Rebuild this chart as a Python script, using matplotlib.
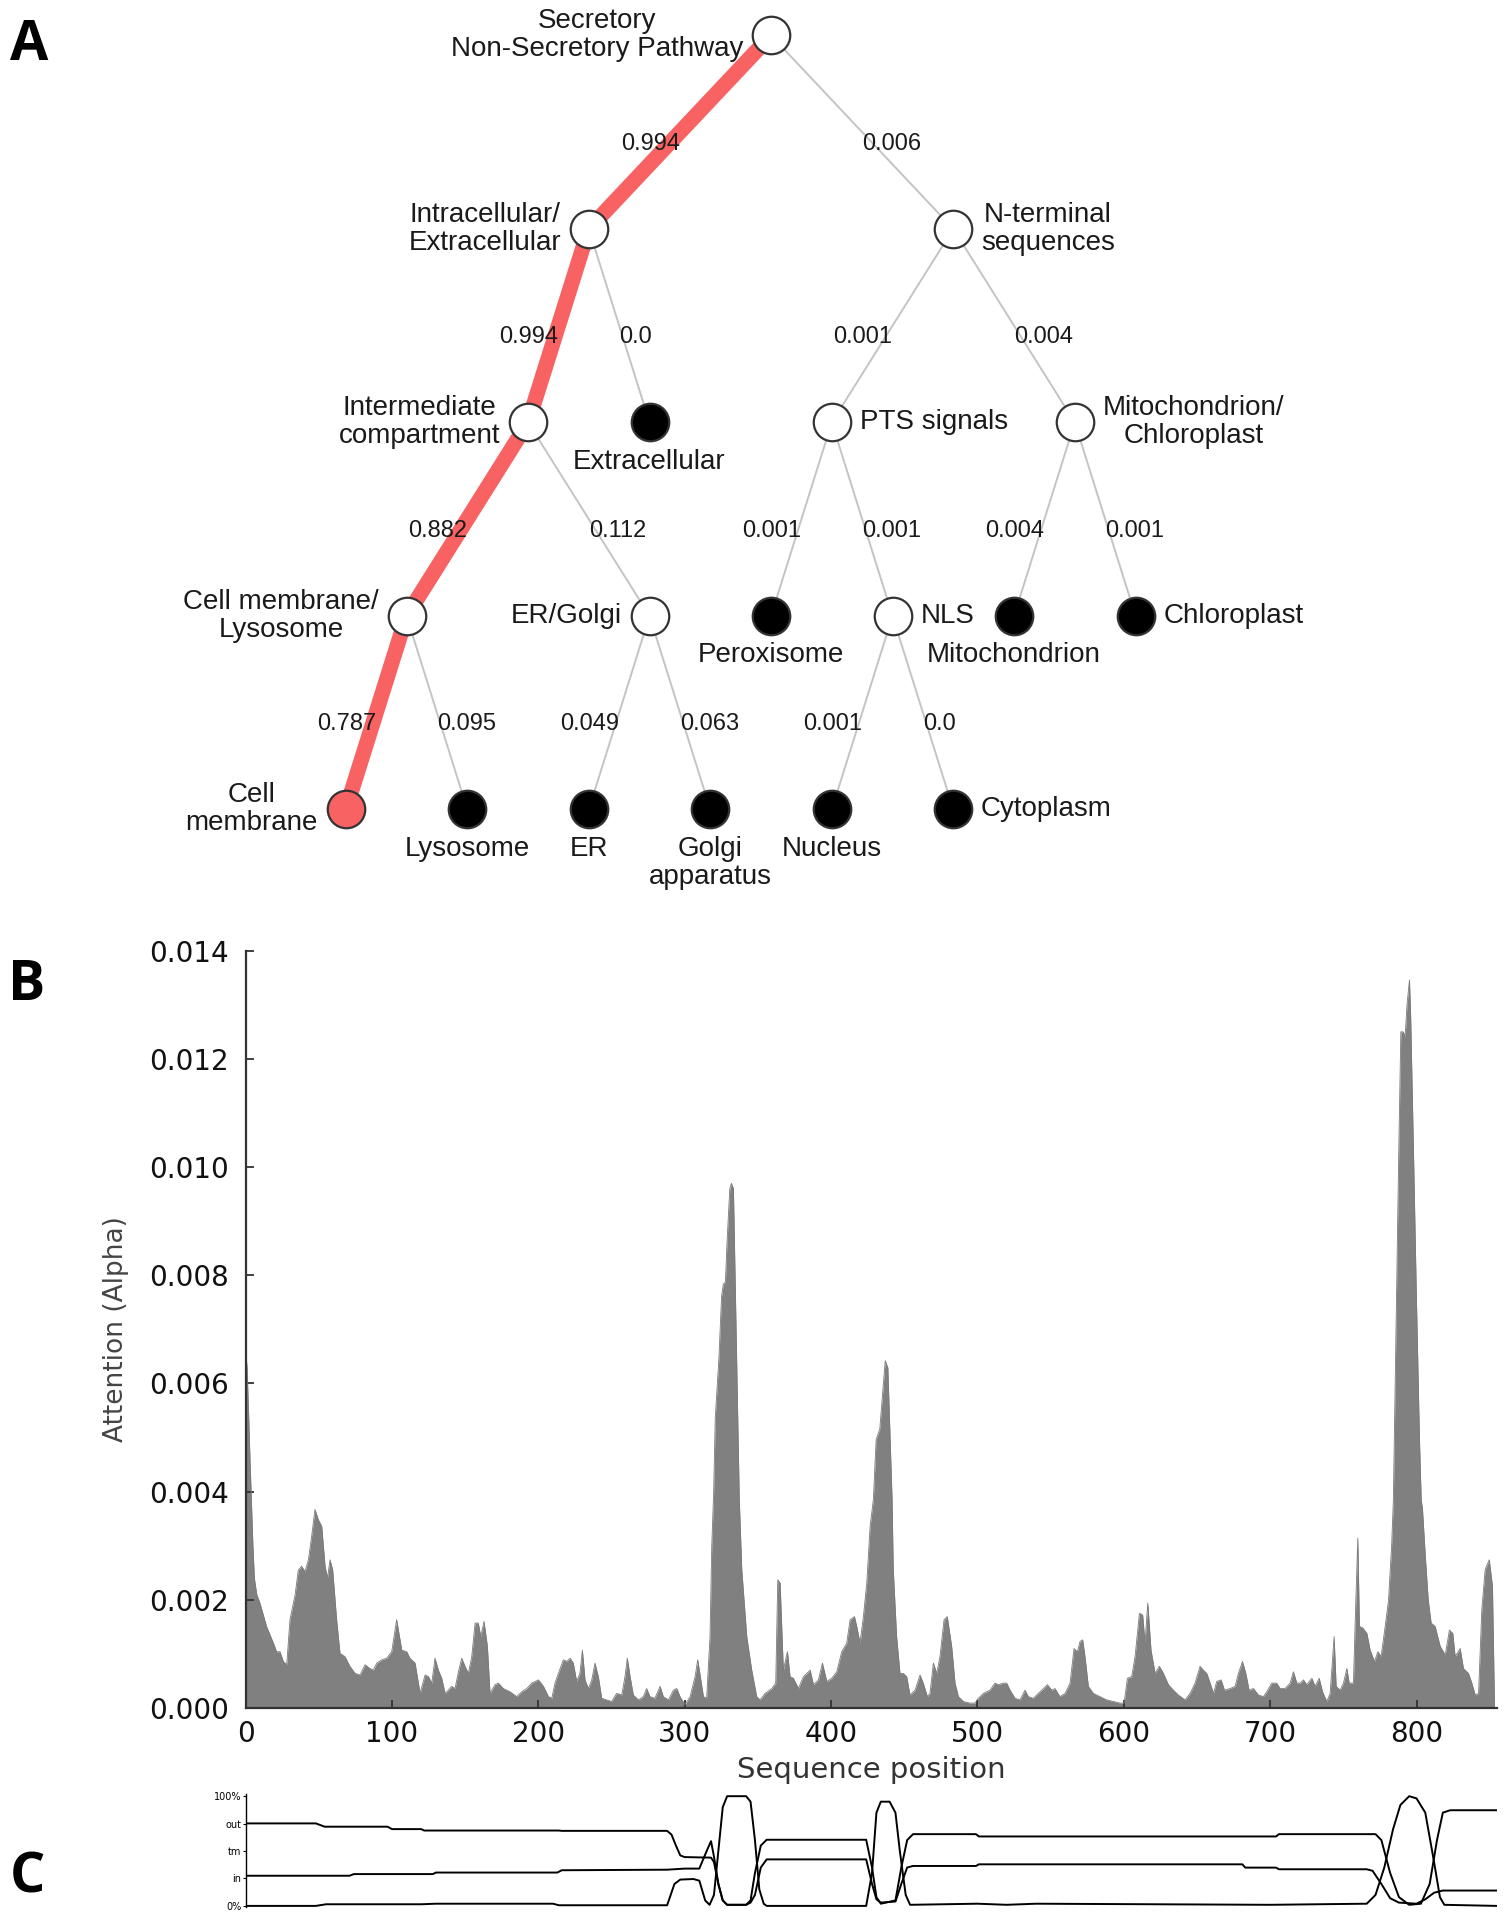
import numpy as np
import matplotlib
matplotlib.use("Agg")
import matplotlib.pyplot as plt
from matplotlib.ticker import FormatStrFormatter

# ---------------- data ----------------
# Panel A: hierarchical localisation tree (parent, child, probability), children left->right
tree_parent = [
    "Secretory\nNon-Secretory Pathway", "Secretory\nNon-Secretory Pathway",
    "Intracellular/\nExtracellular", "Intracellular/\nExtracellular",
    "N-terminal\nsequences", "N-terminal\nsequences",
    "Intermediate\ncompartment", "Intermediate\ncompartment",
    "PTS signals", "PTS signals",
    "Mitochondrion/\nChloroplast", "Mitochondrion/\nChloroplast",
    "Cell membrane/\nLysosome", "Cell membrane/\nLysosome",
    "ER/Golgi", "ER/Golgi",
    "NLS", "NLS",
]
tree_child = [
    "Intracellular/\nExtracellular", "N-terminal\nsequences",
    "Intermediate\ncompartment", "Extracellular",
    "PTS signals", "Mitochondrion/\nChloroplast",
    "Cell membrane/\nLysosome", "ER/Golgi",
    "Peroxisome", "NLS",
    "Mitochondrion", "Chloroplast",
    "Cell\nmembrane", "Lysosome",
    "ER", "Golgi\napparatus",
    "Nucleus", "Cytoplasm",
]
tree_prob = [0.994, 0.006, 0.994, 0.0, 0.001, 0.004, 0.882, 0.112, 0.001, 0.001,
             0.004, 0.001, 0.787, 0.095, 0.049, 0.063, 0.001, 0.0]
predicted_leaf = "Cell\nmembrane"

# Panel B: attention profile (sequence position, attention x 1e-3)
attention_profile = [
    (0, 6.6), (1, 6.3), (2, 5.5), (3, 4.6), (4, 3.8), (5, 3.0), (6, 2.4), (7.6, 2.1),
    (9.8, 1.94), (14.4, 1.5), (19.0, 1.2), (21.2, 1.04), (23.5, 1.04), (25.8, 0.86),
    (28.1, 0.80), (30.3, 1.63), (33.8, 2.09), (36.0, 2.55), (38.3, 2.62), (40.6, 2.52),
    (42.9, 2.74), (45.1, 3.17), (47.4, 3.67), (49.7, 3.48), (52.0, 3.36), (54.3, 2.62),
    (55.9, 2.4), (57.7, 2.74), (59.5, 2.55), (62.2, 1.63), (64.5, 1.01), (67.9, 0.95),
    (71.3, 0.77), (74.8, 0.64), (78.2, 0.61), (81.6, 0.80), (85.0, 0.73), (87.3, 0.70),
    (89.6, 0.83), (93.0, 0.89), (96.4, 0.92), (99.8, 1.04), (103.2, 1.63), (106.7, 1.07),
    (110.1, 1.04), (112.3, 0.92), (115.8, 0.83), (119.2, 0.27), (122.6, 0.61),
    (124.9, 0.58), (127.2, 0.46), (129.4, 0.92), (131.7, 0.70), (134.0, 0.55),
    (136.3, 0.27), (138.5, 0.33), (140.8, 0.40), (143.1, 0.36), (145.4, 0.67),
    (147.7, 0.92), (149.9, 0.77), (152.2, 0.64), (154.5, 0.95), (156.8, 1.57),
    (159.0, 1.57), (160.6, 1.32), (162.9, 1.6), (165.2, 1.14), (167.0, 0.27),
    (170.4, 0.43), (172.7, 0.46), (176.1, 0.36), (180.7, 0.30), (185.2, 0.21),
    (188.7, 0.30), (192.1, 0.36), (195.5, 0.46), (200.1, 0.52), (203.5, 0.40),
    (206.9, 0.21), (209.2, 0.18), (211.4, 0.46), (213.7, 0.64), (217.1, 0.89),
    (219.4, 0.86), (221.7, 0.92), (223.9, 0.83), (226.2, 0.49), (228.4, 0.64),
    (230.1, 1.07), (231.9, 0.52), (234.2, 0.36), (236.5, 0.52), (238.7, 0.83),
    (241.0, 0.58), (243.3, 0.18), (246.7, 0.15), (250.1, 0.12), (253.5, 0.27),
    (257.0, 0.24), (259.2, 0.58), (260.8, 0.92), (262.7, 0.58), (264.9, 0.24),
    (268.4, 0.15), (271.8, 0.21), (274.0, 0.36), (276.3, 0.21), (279.7, 0.18),
    (283.2, 0.40), (285.4, 0.21), (288.9, 0.15), (292.3, 0.33), (294.6, 0.36),
    (296.8, 0.21), (300.2, 0.06), (303.7, 0.21), (307.1, 0.58), (308.9, 0.89),
    (310.7, 0.58), (312.8, 0.21), (315.0, 0.18), (317.3, 1.32), (318.5, 3.0),
    (319.8, 4.0), (320.9, 5.37), (323.4, 6.48), (325.2, 7.61), (326.4, 7.84),
    (327.8, 7.87), (328.9, 8.6), (330.8, 9.59), (331.9, 9.7), (333.3, 9.6),
    (334.5, 7.9), (335.8, 6.0), (337.3, 3.85), (339.0, 2.56), (342.4, 1.32),
    (345.8, 0.70), (349.2, 0.21), (351.5, 0.15), (355.0, 0.27), (359.5, 0.36),
    (362.2, 0.46), (363.6, 2.37), (365.2, 2.31), (367.4, 0.70), (370.2, 1.04),
    (372.0, 0.58), (374.3, 0.55), (377.7, 0.36), (381.1, 0.58), (385.7, 0.70),
    (388.0, 0.43), (391.4, 0.52), (394.1, 0.83), (397.1, 0.49), (400.5, 0.55),
    (403.9, 0.67), (407.3, 1.04), (410.7, 1.2), (413.0, 1.63), (416.0, 1.69),
    (417.6, 1.5), (419.8, 1.2), (422.1, 1.69), (424.4, 2.31), (426.7, 3.36),
    (428.9, 3.85), (430.8, 4.96), (433.3, 5.16), (435.5, 5.9), (437.0, 6.42),
    (438.8, 6.29), (441.7, 3.85), (442.5, 2.56), (444.8, 1.32), (447.1, 0.64),
    (449.4, 0.64), (451.7, 0.58), (453.9, 0.24), (457.4, 0.33), (460.8, 0.61),
    (463.0, 0.46), (465.8, 0.21), (467.6, 0.27), (469.9, 0.83), (472.2, 0.64),
    (474.4, 0.95), (477.2, 1.63), (479.4, 1.69), (482.4, 1.14), (484.7, 0.46),
    (487.0, 0.21), (490.4, 0.12), (494.9, 0.09), (498.4, 0.09), (500.6, 0.18),
    (504.1, 0.27), (508.6, 0.33), (512.0, 0.46), (514.3, 0.43), (517.7, 0.46),
    (520.0, 0.46), (522.3, 0.33), (525.7, 0.18), (529.1, 0.15), (532.5, 0.33),
    (534.8, 0.21), (538.2, 0.18), (541.6, 0.27), (545.1, 0.36), (547.8, 0.43),
    (550.8, 0.33), (553.0, 0.36), (556.4, 0.21), (559.9, 0.27), (563.3, 0.46),
    (566.0, 1.1), (568.3, 1.04), (570.1, 1.23), (571.9, 1.26), (573.5, 0.95),
    (575.8, 0.40), (579.2, 0.27), (583.8, 0.21), (588.3, 0.15), (592.9, 0.12),
    (597.5, 0.09), (600.2, 0.09), (602.5, 0.55), (605.4, 0.58), (607.7, 0.95),
    (610.7, 1.75), (612.9, 1.72), (614.5, 1.2), (616.4, 1.94), (618.6, 1.07),
    (621.4, 0.64), (624.3, 0.77), (627.1, 0.64), (630.5, 0.43), (633.9, 0.33),
    (637.3, 0.24), (641.9, 0.15), (645.3, 0.27), (648.7, 0.46), (652.1, 0.77),
    (654.4, 0.70), (656.7, 0.64), (659.0, 0.46), (661.3, 0.27), (663.5, 0.49),
    (666.5, 0.52), (668.8, 0.33), (672.7, 0.36), (676.1, 0.40), (678.3, 0.64),
    (681.1, 0.86), (683.4, 0.64), (685.6, 0.33), (688.6, 0.36), (692.0, 0.24),
    (695.4, 0.21), (697.7, 0.30), (701.1, 0.46), (704.5, 0.46), (706.8, 0.36),
    (710.2, 0.36), (713.7, 0.46), (715.9, 0.67), (718.2, 0.46), (720.5, 0.46),
    (722.8, 0.52), (725.0, 0.43), (728.5, 0.55), (730.7, 0.40), (733.5, 0.55),
    (735.8, 0.30), (738.7, 0.12), (741.0, 0.27), (743.7, 1.32), (745.1, 0.40),
    (747.8, 0.33), (750.1, 0.46), (752.4, 0.73), (754.0, 0.46), (756.9, 0.46),
    (758.5, 1.94), (759.9, 3.14), (761.0, 1.51), (763.3, 1.48), (766.1, 1.38),
    (768.3, 1.07), (771.3, 0.86), (773.6, 1.04), (775.8, 0.95), (778.6, 1.51),
    (780.9, 2.0), (783.0, 3.0), (784.2, 3.85), (786.7, 8.3), (788.0, 10.5),
    (789.3, 12.5), (791.0, 12.5), (792.2, 12.4), (793.5, 13.0), (795.2, 13.46),
    (796.0, 12.8), (798.0, 10.2), (800.0, 7.5), (802.0, 5.0), (803.2, 3.85),
    (804.1, 3.67), (805.9, 2.86), (808.0, 2.0), (810.0, 1.57), (812.7, 1.51),
    (816.2, 1.14), (819.6, 0.98), (822.5, 1.44), (824.8, 1.38), (826.4, 0.95),
    (829.8, 1.1), (832.1, 0.73), (835.5, 0.64), (837.8, 0.46), (840.1, 0.24),
    (842.4, 0.27), (844.6, 1.81), (846.9, 2.56), (849.7, 2.74), (851.9, 2.25),
    (853.0, 0.5), (853.3, 0.0),
]
b_xticks = [0, 100, 200, 300, 400, 500, 600, 700, 800]
b_yticks = [0.000, 0.002, 0.004, 0.006, 0.008, 0.010, 0.012, 0.014]

# Panel C: topology posterior curves
c_out_x = [0, 48, 54, 97, 100, 120, 122, 214, 216, 288, 291, 294, 297, 300, 318, 320, 323,
           326, 329, 342, 345, 348, 352, 356, 424, 428, 431, 434, 444, 448, 452, 456, 499,
           501, 704, 706, 772, 776, 782, 788, 795, 803, 809, 814, 818, 823, 855]
c_out_v = [0.752, 0.752, 0.722, 0.722, 0.70, 0.70, 0.687, 0.687, 0.684, 0.684, 0.65, 0.55,
           0.46, 0.445, 0.44, 0.40, 0.20, 0.05, 0.01, 0.01, 0.05, 0.30, 0.55, 0.603, 0.603,
           0.35, 0.08, 0.02, 0.05, 0.35, 0.60, 0.654, 0.654, 0.633, 0.633, 0.654, 0.654,
           0.60, 0.30, 0.08, 0.01, 0.02, 0.20, 0.60, 0.85, 0.872, 0.872]
c_in_x = [0, 71, 74, 128, 130, 213, 216, 288, 300, 310, 315, 318, 320, 323, 326, 329, 342,
          345, 348, 352, 356, 424, 428, 431, 434, 444, 448, 452, 456, 499, 501, 681, 683,
          704, 706, 766, 770, 776, 782, 788, 800, 806, 812, 818, 855]
c_in_v = [0.275, 0.275, 0.29, 0.29, 0.304, 0.304, 0.325, 0.33, 0.34, 0.34, 0.50, 0.59, 0.45,
          0.20, 0.05, 0.01, 0.01, 0.03, 0.10, 0.35, 0.424, 0.424, 0.20, 0.06, 0.03, 0.04,
          0.20, 0.35, 0.364, 0.364, 0.379, 0.379, 0.349, 0.349, 0.334, 0.334, 0.32, 0.20,
          0.07, 0.03, 0.02, 0.06, 0.12, 0.14, 0.14]
c_tm_x = [0, 48, 55, 120, 130, 210, 214, 288, 293, 297, 306, 310, 314, 317, 320, 323, 326,
          329, 342, 345, 348, 351, 354, 356, 424, 428, 431, 434, 440, 444, 447, 451, 454,
          500, 520, 540, 700, 766, 772, 778, 784, 789, 795, 800, 806, 812, 816, 819, 855]
c_tm_v = [0.0, 0.0, 0.015, 0.015, 0.02, 0.02, 0.006, 0.006, 0.20, 0.24, 0.245, 0.23, 0.05,
          0.01, 0.10, 0.50, 0.90, 1.0, 1.0, 0.95, 0.60, 0.15, 0.02, 0.0, 0.0, 0.30, 0.85,
          0.95, 0.95, 0.85, 0.50, 0.10, 0.01, 0.02, 0.01, 0.02, 0.01, 0.02, 0.10, 0.35, 0.70,
          0.92, 1.0, 0.98, 0.85, 0.40, 0.08, 0.01, 0.0]
c_yticks = [0.0, 0.25, 0.5, 0.75, 1.0]
c_yticklabels = ["0%", "in", "tm", "out", "100%"]

# ---------------- styles ----------------
label_side = {
    "Secretory\nNon-Secretory Pathway": "left", "Intracellular/\nExtracellular": "left",
    "Intermediate\ncompartment": "left", "Cell membrane/\nLysosome": "left",
    "ER/Golgi": "left", "Cell\nmembrane": "left",
    "N-terminal\nsequences": "right", "PTS signals": "right",
    "Mitochondrion/\nChloroplast": "right", "NLS": "right", "Chloroplast": "right",
    "Cytoplasm": "right",
}
RED = "#f96262"
GRAY_EDGE = "#c4c4c4"
TREE_FONT = ["Liberation Sans", "DejaVu Sans"]

W, H = 1508, 1916
fig = plt.figure(figsize=(W / 100, H / 100), dpi=100)


def fy(py):
    return 1 - py / H


# ---------------- tree layout (tidy tree) ----------------
children_of = {}
for p, c in zip(tree_parent, tree_child):
    children_of.setdefault(p, []).append(c)
root = tree_parent[0]
rel = {}
depth_of = {root: 0}


def build(n, depth):
    depth_of[n] = depth
    kids = children_of.get(n, [])
    if not kids:
        return {depth: (0.0, 0.0)}
    cons = [build(k, depth + 1) for k in kids]
    offsets = [0.0]
    merged = dict(cons[0])
    for c in cons[1:]:
        s = max(merged[d][1] - c[d][0] + 1 for d in c if d in merged)
        offsets.append(s)
        for d, (a, b) in c.items():
            if d in merged:
                merged[d] = (min(merged[d][0], a + s), max(merged[d][1], b + s))
            else:
                merged[d] = (a + s, b + s)
    center = (offsets[0] + offsets[-1]) / 2
    for k, o in zip(kids, offsets):
        rel[k] = o - center
    out = {depth: (0.0, 0.0)}
    for d, (a, b) in merged.items():
        out[d] = (a - center, b - center)
    return out


build(root, 0)
xpos = {root: 0.0}
order = [root]
for n in order:
    for k in children_of.get(n, []):
        xpos[k] = xpos[n] + rel[k]
        order.append(k)
xmin = min(xpos.values())
for k in xpos:
    xpos[k] -= xmin

# path to predicted leaf
parent_of = {c: p for p, c in zip(tree_parent, tree_child)}
path_nodes = [predicted_leaf]
while path_nodes[-1] in parent_of:
    path_nodes.append(parent_of[path_nodes[-1]])
path_edges = set(zip(path_nodes[1:], path_nodes[:-1]))

# ---------------- Panel A ----------------
axA = fig.add_axes([0, fy(900), 1, 900 / H])
axA.set_xlim(-345.8 / 121.5, (W - 345.8) / 121.5)
axA.set_ylim((900 - 35.4) / 193.5, -35.4 / 193.5)
axA.axis("off")

for p, c, pr in zip(tree_parent, tree_child, tree_prob):
    x0, y0 = xpos[p], depth_of[p]
    x1, y1 = xpos[c], depth_of[c]
    if (p, c) in path_edges:
        axA.plot([x0, x1], [y0, y1], color=RED, lw=11, solid_capstyle="butt", zorder=2)
    else:
        axA.plot([x0, x1], [y0, y1], color=GRAY_EDGE, lw=1.4, zorder=1)
    mx, my = (x0 + x1) / 2, (y0 + y1) / 2
    ha = "right" if x1 < x0 else "left"
    axA.text(mx, my + 0.06, str(pr), ha=ha, va="center", fontsize=17,
             family=TREE_FONT, color="#1a1a1a", zorder=5)

for n in xpos:
    if n == predicted_leaf:
        fc = RED
    elif n in children_of:
        fc = "white"
    else:
        fc = "black"
    axA.plot([xpos[n]], [depth_of[n]], "o", ms=27, mfc=fc, mec="#333333", mew=1.6, zorder=4)
    side = label_side.get(n, "below")
    if side == "left":
        axA.annotate(n, (xpos[n], depth_of[n]), xytext=(-20, 0), textcoords="offset points",
                     ha="right", va="center", multialignment="center", fontsize=20,
                     family=TREE_FONT, color="#1a1a1a", linespacing=1.1, zorder=6)
    elif side == "right":
        axA.annotate(n, (xpos[n], depth_of[n]), xytext=(20, 0), textcoords="offset points",
                     ha="left", va="center", multialignment="center", fontsize=20,
                     family=TREE_FONT, color="#1a1a1a", linespacing=1.1, zorder=6)
    else:
        axA.annotate(n, (xpos[n], depth_of[n]), xytext=(0, -19), textcoords="offset points",
                     ha="center", va="top", multialignment="center", fontsize=20,
                     family=TREE_FONT, color="#1a1a1a", linespacing=1.1, zorder=6)

# ---------------- Panel B ----------------
axB = fig.add_axes([245.6 / W, fy(1708), (1497 - 245.6) / W, (1708 - 950.7) / H])
bx = np.array([p[0] for p in attention_profile])
bv = np.array([p[1] for p in attention_profile]) * 1e-3
axB.fill_between(bx, 0, bv, color="#808080", lw=0)
axB.plot(bx, bv, color="#7a7a7a", lw=0.6)
axB.set_xlim(0, 855)
axB.set_ylim(0, 0.014)
axB.set_xticks(b_xticks)
axB.set_yticks(b_yticks)
axB.yaxis.set_major_formatter(FormatStrFormatter("%.3f"))
for s in ["top", "right"]:
    axB.spines[s].set_visible(False)
for s in ["left", "bottom"]:
    axB.spines[s].set_color("#333333")
    axB.spines[s].set_linewidth(1.6)
axB.tick_params(direction="in", length=6, width=1.3, color="#333333",
                labelsize=20, labelcolor="#111111")
axB.tick_params(axis="y", pad=12)
axB.tick_params(axis="x", pad=9)
for t in axB.get_xticklabels() + axB.get_yticklabels():
    t.set_family("DejaVu Sans")
axB.set_xlabel("Sequence position", fontsize=21, family="DejaVu Sans", color="#333333")
axB.set_ylabel("Attention (Alpha)", fontsize=19, family="DejaVu Sans", color="#444444")
axB.xaxis.set_label_coords(0.5, -0.063)
axB.yaxis.set_label_coords(-0.093, 0.5)

# ---------------- Panel C ----------------
axC = fig.add_axes([245.6 / W, fy(1907), (1497 - 245.6) / W, (1907 - 1794) / H])
for xs, vs in [(c_out_x, c_out_v), (c_in_x, c_in_v), (c_tm_x, c_tm_v)]:
    axC.plot(xs, vs, color="black", lw=1.4)
axC.set_xlim(0, 855)
axC.set_ylim(-0.01, 1.02)
axC.set_xticks([])
axC.set_yticks(c_yticks)
axC.set_yticklabels(c_yticklabels)
axC.tick_params(axis="y", length=2, width=0.8, labelsize=7, pad=1)
for s in ["top", "right", "bottom"]:
    axC.spines[s].set_visible(False)
axC.spines["left"].set_linewidth(1.0)

# ---------------- panel letters ----------------
for letter, (px, py) in {"A": (29, 46), "B": (27, 985), "C": (27, 1878)}.items():
    fig.text(px / W, fy(py), letter, fontsize=40, weight="bold",
             family=["Open Sans", "DejaVu Sans"], ha="center", va="center")

fig.savefig("out.png", dpi=100)
